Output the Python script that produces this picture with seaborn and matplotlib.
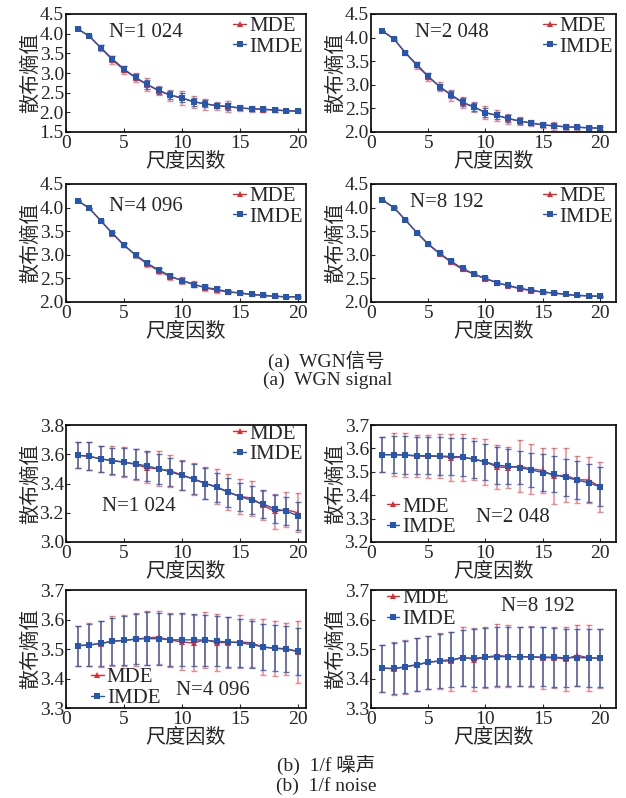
import numpy as np
import pandas as pd
import matplotlib
matplotlib.use("Agg")
import matplotlib.pyplot as plt
import seaborn as sns

sns.set_style("ticks")
plt.rcParams['font.family'] = ['Liberation Serif', 'Noto Sans CJK SC']
plt.rcParams['axes.unicode_minus'] = False

scales = list(range(1, 21))

# ---- WGN ----
wgn1024_mde = [4.12, 3.94, 3.64, 3.33, 3.08, 2.88, 2.70, 2.55, 2.43, 2.36, 2.27, 2.21, 2.17, 2.14, 2.11, 2.09, 2.07, 2.06, 2.04, 2.03]
wgn1024_imde = [4.12, 3.94, 3.64, 3.36, 3.10, 2.89, 2.71, 2.56, 2.44, 2.37, 2.27, 2.22, 2.17, 2.15, 2.11, 2.09, 2.08, 2.06, 2.04, 2.03]
wgn1024_mde_err = [0.02, 0.03, 0.08, 0.09, 0.10, 0.12, 0.17, 0.12, 0.15, 0.17, 0.15, 0.14, 0.10, 0.14, 0.085, 0.07, 0.06, 0.06, 0.04, 0.04]
wgn1024_imde_err = [0.02, 0.02, 0.06, 0.06, 0.07, 0.08, 0.12, 0.09, 0.10, 0.11, 0.10, 0.09, 0.07, 0.08, 0.06, 0.05, 0.04, 0.04, 0.03, 0.03]

wgn2048_mde = [4.14, 3.97, 3.68, 3.41, 3.17, 2.96, 2.78, 2.62, 2.53, 2.41, 2.35, 2.28, 2.23, 2.19, 2.15, 2.13, 2.11, 2.10, 2.09, 2.08]
wgn2048_imde = [4.14, 3.97, 3.68, 3.43, 3.18, 2.96, 2.79, 2.63, 2.53, 2.41, 2.35, 2.29, 2.23, 2.19, 2.15, 2.13, 2.11, 2.10, 2.09, 2.08]
wgn2048_mde_err = [0.01, 0.02, 0.04, 0.08, 0.09, 0.09, 0.12, 0.12, 0.11, 0.14, 0.11, 0.11, 0.09, 0.07, 0.06, 0.09, 0.06, 0.05, 0.04, 0.04]
wgn2048_imde_err = [0.01, 0.02, 0.03, 0.06, 0.06, 0.06, 0.08, 0.08, 0.08, 0.09, 0.07, 0.07, 0.06, 0.05, 0.04, 0.05, 0.04, 0.03, 0.03, 0.03]

wgn4096_mde = [4.15, 3.99, 3.72, 3.45, 3.21, 2.99, 2.80, 2.66, 2.53, 2.46, 2.38, 2.30, 2.25, 2.21, 2.19, 2.16, 2.14, 2.12, 2.11, 2.11]
wgn4096_imde = [4.15, 3.99, 3.72, 3.46, 3.20, 3.00, 2.82, 2.68, 2.55, 2.45, 2.37, 2.31, 2.27, 2.22, 2.19, 2.16, 2.14, 2.12, 2.11, 2.11]
wgn4096_mde_err = [0.01, 0.01, 0.02, 0.04, 0.05, 0.05, 0.06, 0.06, 0.06, 0.07, 0.07, 0.06, 0.06, 0.04, 0.04, 0.03, 0.03, 0.03, 0.02, 0.02]
wgn4096_imde_err = [0.01, 0.01, 0.02, 0.03, 0.04, 0.04, 0.04, 0.04, 0.04, 0.05, 0.05, 0.04, 0.04, 0.03, 0.03, 0.02, 0.02, 0.02, 0.015, 0.015]

wgn8192_mde = [4.16, 4.00, 3.74, 3.47, 3.22, 3.02, 2.84, 2.69, 2.59, 2.49, 2.41, 2.34, 2.28, 2.24, 2.21, 2.19, 2.16, 2.14, 2.13, 2.12]
wgn8192_imde = [4.16, 4.00, 3.74, 3.47, 3.23, 3.03, 2.86, 2.71, 2.59, 2.50, 2.41, 2.35, 2.29, 2.25, 2.21, 2.19, 2.16, 2.14, 2.13, 2.12]
wgn8192_mde_err = [0.01, 0.01, 0.02, 0.02, 0.03, 0.03, 0.03, 0.03, 0.03, 0.04, 0.04, 0.03, 0.03, 0.03, 0.03, 0.03, 0.02, 0.02, 0.02, 0.02]
wgn8192_imde_err = [0.01, 0.01, 0.015, 0.015, 0.02, 0.02, 0.02, 0.02, 0.02, 0.03, 0.03, 0.02, 0.02, 0.02, 0.02, 0.02, 0.015, 0.015, 0.015, 0.015]

# ---- 1/f noise ----
pink1024_mde = [3.593, 3.586, 3.568, 3.558, 3.547, 3.530, 3.507, 3.500, 3.487, 3.458, 3.432, 3.402, 3.378, 3.342, 3.312, 3.300, 3.250, 3.210, 3.220, 3.200]
pink1024_imde = [3.593, 3.586, 3.568, 3.555, 3.545, 3.534, 3.520, 3.500, 3.480, 3.455, 3.430, 3.400, 3.373, 3.340, 3.310, 3.286, 3.260, 3.227, 3.210, 3.180]
pink1024_mde_err = [0.09, 0.095, 0.09, 0.10, 0.105, 0.105, 0.105, 0.12, 0.11, 0.105, 0.11, 0.11, 0.12, 0.12, 0.12, 0.12, 0.10, 0.12, 0.12, 0.135]
pink1024_imde_err = [0.09, 0.095, 0.09, 0.09, 0.095, 0.10, 0.10, 0.10, 0.095, 0.10, 0.105, 0.105, 0.10, 0.10, 0.095, 0.095, 0.095, 0.095, 0.095, 0.095]

pink2048_mde = [3.573, 3.574, 3.571, 3.567, 3.566, 3.566, 3.561, 3.562, 3.555, 3.542, 3.521, 3.518, 3.524, 3.512, 3.506, 3.482, 3.485, 3.466, 3.465, 3.436]
pink2048_imde = [3.573, 3.573, 3.572, 3.569, 3.569, 3.567, 3.566, 3.563, 3.553, 3.542, 3.528, 3.524, 3.518, 3.508, 3.497, 3.489, 3.476, 3.465, 3.453, 3.436]
pink2048_mde_err = [0.075, 0.09, 0.093, 0.09, 0.092, 0.094, 0.10, 0.10, 0.09, 0.097, 0.095, 0.088, 0.11, 0.105, 0.095, 0.12, 0.115, 0.10, 0.10, 0.108]
pink2048_imde_err = [0.075, 0.078, 0.08, 0.08, 0.08, 0.08, 0.08, 0.08, 0.08, 0.075, 0.078, 0.075, 0.072, 0.072, 0.078, 0.077, 0.08, 0.08, 0.08, 0.083]

pink4096_mde = [3.511, 3.515, 3.518, 3.527, 3.529, 3.533, 3.538, 3.540, 3.530, 3.524, 3.520, 3.531, 3.522, 3.522, 3.524, 3.521, 3.506, 3.502, 3.499, 3.491]
pink4096_imde = [3.511, 3.513, 3.519, 3.526, 3.529, 3.534, 3.535, 3.535, 3.531, 3.531, 3.531, 3.530, 3.526, 3.524, 3.521, 3.515, 3.507, 3.503, 3.501, 3.492]
pink4096_mde_err = [0.068, 0.073, 0.078, 0.085, 0.085, 0.09, 0.092, 0.09, 0.092, 0.095, 0.095, 0.095, 0.098, 0.088, 0.09, 0.082, 0.095, 0.093, 0.088, 0.105]
pink4096_imde_err = [0.068, 0.072, 0.075, 0.08, 0.082, 0.086, 0.089, 0.088, 0.088, 0.09, 0.088, 0.086, 0.085, 0.085, 0.082, 0.08, 0.078, 0.078, 0.078, 0.079]

pink8192_mde = [3.435, 3.433, 3.439, 3.446, 3.455, 3.459, 3.459, 3.474, 3.464, 3.472, 3.478, 3.475, 3.473, 3.474, 3.470, 3.471, 3.466, 3.479, 3.470, 3.468]
pink8192_imde = [3.435, 3.434, 3.440, 3.447, 3.455, 3.460, 3.464, 3.469, 3.469, 3.472, 3.474, 3.474, 3.474, 3.473, 3.473, 3.472, 3.470, 3.471, 3.470, 3.469]
pink8192_mde_err = [0.08, 0.09, 0.09, 0.09, 0.09, 0.095, 0.10, 0.10, 0.108, 0.103, 0.107, 0.105, 0.10, 0.104, 0.105, 0.104, 0.108, 0.104, 0.113, 0.10]
pink8192_imde_err = [0.08, 0.085, 0.088, 0.09, 0.09, 0.092, 0.094, 0.096, 0.098, 0.10, 0.10, 0.10, 0.10, 0.10, 0.10, 0.10, 0.098, 0.098, 0.098, 0.098]

n_labels = ["N=1 024", "N=2 048", "N=4 096", "N=8 192"]
series_labels = ["MDE", "IMDE"]
xlabel = "尺度因数"
ylabel = "散布熵值"
captions = ["(a)  WGN信号", "(a)  WGN signal", "(b)  1/f 噪声", "(b)  1/f noise"]

panels = [
    (wgn1024_mde, wgn1024_imde, wgn1024_mde_err, wgn1024_imde_err),
    (wgn2048_mde, wgn2048_imde, wgn2048_mde_err, wgn2048_imde_err),
    (wgn4096_mde, wgn4096_imde, wgn4096_mde_err, wgn4096_imde_err),
    (wgn8192_mde, wgn8192_imde, wgn8192_mde_err, wgn8192_imde_err),
    (pink1024_mde, pink1024_imde, pink1024_mde_err, pink1024_imde_err),
    (pink2048_mde, pink2048_imde, pink2048_mde_err, pink2048_imde_err),
    (pink4096_mde, pink4096_imde, pink4096_mde_err, pink4096_imde_err),
    (pink8192_mde, pink8192_imde, pink8192_mde_err, pink8192_imde_err),
]

RED = "#e8262b"
BLUE = "#2357b2"

W, H = 626, 798
fig = plt.figure(figsize=(W / 100, H / 100), dpi=100)

cols = [(66, 306), (371, 616)]
rows = [(14, 132), (184, 302), (425, 542), (590, 708)]

ylims = [(1.5, 4.5), (2.0, 4.5), (2.0, 4.5), (2.0, 4.5),
         (3.0, 3.8), (3.2, 3.7), (3.3, 3.7), (3.3, 3.7)]
ysteps = [0.5, 0.5, 0.5, 0.5, 0.2, 0.1, 0.1, 0.1]
xmaxs = [20.7, 21.4]

leg_pos = [("upper right", (1.02, 1.05)), ("upper right", (1.02, 1.05)),
           ("upper right", (1.02, 1.05)), ("upper right", (1.02, 1.05)),
           ("upper right", (1.02, 1.08)), ("lower left", (0.03, -0.03)),
           ("lower left", (0.07, -0.07)), ("upper left", (0.03, 1.08))]
n_pos = [(0.18, 0.84), (0.18, 0.84), (0.18, 0.81), (0.16, 0.84),
         (0.15, 0.30), (0.43, 0.21), (0.46, 0.15), (0.53, 0.86)]

FS_TICK = 14
FS_CJK = 14.5
FS_LEG = 15
FS_N = 15

for i, (mde, imde, mde_err, imde_err) in enumerate(panels):
    r, c = divmod(i, 2)
    l, rgt = cols[c]
    t, b = rows[r]
    ax = fig.add_axes([l / W, (H - b) / H, (rgt - l) / W, (b - t) / H])

    df = pd.DataFrame({
        "scale": scales * 2,
        "value": list(mde) + list(imde),
        "method": ["MDE"] * len(scales) + ["IMDE"] * len(scales),
    })

    ax.errorbar(scales, mde, yerr=mde_err, fmt="none", ecolor=RED, alpha=0.55,
                elinewidth=1.1, capsize=2.2, capthick=1.0, zorder=1)
    ax.errorbar(scales, imde, yerr=imde_err, fmt="none", ecolor=BLUE, alpha=0.8,
                elinewidth=1.1, capsize=2.2, capthick=1.0, zorder=2)

    sns.lineplot(data=df, x="scale", y="value", hue="method", style="method",
                 hue_order=series_labels, style_order=series_labels,
                 palette={"MDE": RED, "IMDE": BLUE},
                 markers={"MDE": "^", "IMDE": "s"}, dashes=False,
                 markersize=4.5, markeredgewidth=0, linewidth=1.0,
                 ax=ax, zorder=3)

    ax.set_xlim(0, xmaxs[c])
    ax.set_ylim(*ylims[i])
    ax.set_xticks([0, 5, 10, 15, 20])
    y0, y1 = ylims[i]
    ax.set_yticks(np.round(np.arange(y0, y1 + 1e-9, ysteps[i]), 2))
    ax.yaxis.set_major_formatter(matplotlib.ticker.FormatStrFormatter("%.1f"))
    ax.tick_params(direction="in", length=3, width=0.8, labelsize=FS_TICK)
    ax.tick_params(axis="x", pad=2.5)
    ax.tick_params(axis="y", pad=1.5)
    for sp in ax.spines.values():
        sp.set_linewidth(1.2)
        sp.set_color("black")

    ax.set_xlabel(xlabel, fontsize=FS_CJK, labelpad=0.5)
    ax.set_ylabel(ylabel, fontsize=FS_CJK, labelpad=-1)

    loc, bb = leg_pos[i]
    leg = ax.legend(loc=loc, bbox_to_anchor=bb, frameon=False, fontsize=FS_LEG,
                    handlelength=0.6, handletextpad=0.15, labelspacing=0.05,
                    borderpad=0.2, borderaxespad=0.2)
    for h in leg.legend_handles:
        h.set_markersize(4.5)

    ax.text(n_pos[i][0], n_pos[i][1], n_labels[i % 4], transform=ax.transAxes,
            ha="left", va="center", fontsize=FS_N)

fig.text(326 / W, 1 - 361 / H, captions[0], ha="center", va="center", fontsize=14)
fig.text(328 / W, 1 - 380 / H, captions[1], ha="center", va="center", fontsize=14)
fig.text(326 / W, 1 - 766 / H, captions[2], ha="center", va="center", fontsize=14)
fig.text(326 / W, 1 - 786 / H, captions[3], ha="center", va="center", fontsize=14)

fig.savefig("out.png", dpi=100)
